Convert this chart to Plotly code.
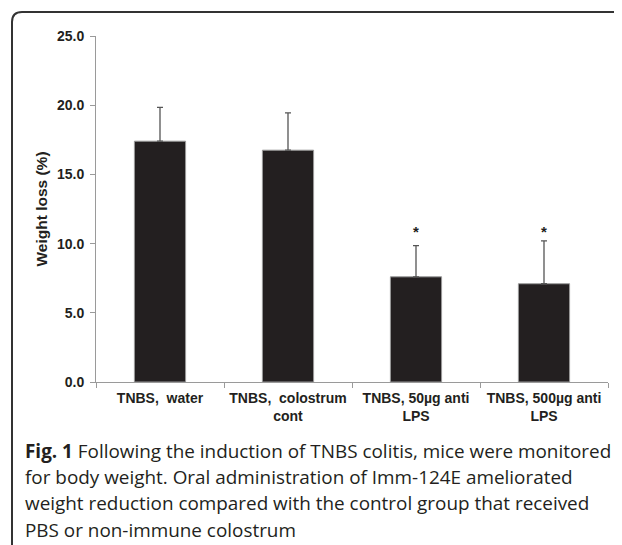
import plotly.graph_objects as go

# ---- data ----
categories = ["TNBS,\u00a0 water", "TNBS,\u00a0 colostrum<br>cont",
              "TNBS, 50\u00b5g anti<br>LPS", "TNBS, 500\u00b5g anti<br>LPS"]
weight_loss = [17.4, 16.75, 7.6, 7.1]
sd_upper = [2.45, 2.7, 2.25, 3.1]
sig_marks = ["", "", "*", "*"]
y_ticks = [0, 5, 10, 15, 20, 25]
y_ticklabels = ["0.0", "5.0", "10.0", "15.0", "20.0", "25.0"]
caption_lines = [
    "<b>Fig. 1</b> Following the induction of TNBS colitis, mice were monitored",
    "for body weight. Oral administration of Imm-124E ameliorated",
    "weight reduction compared with the control group that received",
    "PBS or non-immune colostrum",
]

# page body has an 8px default margin; work in figure pixels = reference - 8
OFF = 8
W, H = 622 - OFF, 545 - OFF
L, R, T, B = 96 - OFF, 14, 36 - OFF, 545 - 382
pw, ph = W - L - R, H - T - B

def px2paper(x, y):
    x -= OFF
    y -= OFF
    return (x - L) / pw, (H - B - y) / ph

dark = "#231f20"

fig = go.Figure()
fig.add_trace(go.Bar(
    x=categories, y=weight_loss,
    marker=dict(color=dark, line=dict(color="#9a9a9a", width=1)),
    error_y=dict(type="data", symmetric=False, array=sd_upper,
                 arrayminus=[0] * len(sd_upper),
                 color="#555555", thickness=1.3, width=3),
    width=0.4,
))

for c, v, e, s in zip(categories, weight_loss, sd_upper, sig_marks):
    if s:
        fig.add_annotation(x=c, y=11.05, text="<b>" + s + "</b>", showarrow=False,
                           font=dict(family="Liberation Sans, Arial", size=15, color=dark),
                           yanchor="middle", yshift=-2)

# caption
cap_y = [451, 477, 503, 530]
for line, cy in zip(caption_lines, cap_y):
    xp, yp = px2paper(23, cy)
    fig.add_annotation(xref="paper", yref="paper", x=xp, y=yp, text=line,
                       showarrow=False, xanchor="left", yanchor="middle",
                       align="left",
                       font=dict(family="Open Sans", size=18.9, color=dark))

# frame (rounded top-left corner, open right/bottom)
x0, y0 = px2paper(12, 548)
x1, y1 = px2paper(12, 22)
xc, yc = px2paper(12, 12)
x2, y2 = px2paper(22, 12)
x3, y3 = px2paper(630, 12)
fig.add_shape(type="path", xref="paper", yref="paper",
              path=f"M {x0},{y0} L {x1},{y1} Q {xc},{yc} {x2},{y2} L {x3},{y3}",
              line=dict(color="#333333", width=2))

fig.update_layout(
    width=W, height=H,
    margin=dict(l=L, r=R, t=T, b=B),
    paper_bgcolor="white", plot_bgcolor="white",
    showlegend=False,
    font=dict(family="Liberation Sans, Arial", size=14, color=dark),
    xaxis=dict(
        showline=True, linecolor="#9a9a9a", linewidth=1,
        ticks="outside", ticklen=5, tickcolor="#9a9a9a", tickson="boundaries",
        ticklabelstandoff=3,
        tickfont=dict(family="Liberation Sans, Arial", size=14, color=dark, weight="bold"),
        showgrid=False,
    ),
    yaxis=dict(
        range=[0, 25], tickvals=y_ticks, ticktext=y_ticklabels,
        showline=True, linecolor="#9a9a9a", linewidth=1,
        ticks="outside", ticklen=5, tickcolor="#9a9a9a", ticklabelstandoff=3,
        tickfont=dict(family="Liberation Sans, Arial", size=14, color=dark, weight="bold"),
        showgrid=False, zeroline=False,
        title=dict(text="<b>Weight loss (%)</b>", standoff=5,
                   font=dict(family="Liberation Sans, Arial", size=15.5, color=dark,
                             weight="bold")),
    ),
)

fig.write_html("out.html")
